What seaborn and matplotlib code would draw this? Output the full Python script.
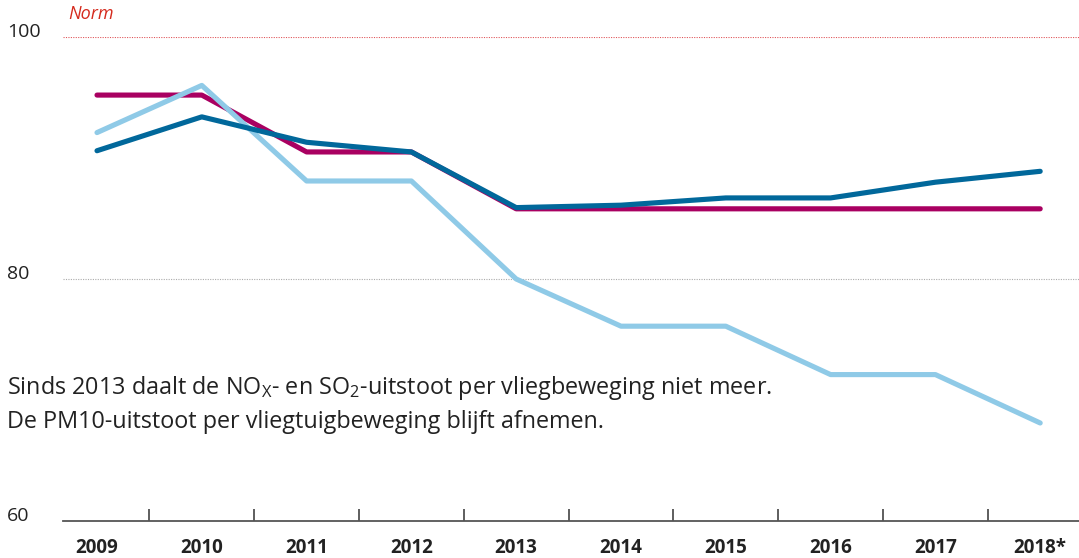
import matplotlib
matplotlib.use("Agg")
import matplotlib.pyplot as plt
import seaborn as sns
import pandas as pd

years = ["2009", "2010", "2011", "2012", "2013", "2014", "2015", "2016", "2017", "2018*"]
nox = [95.2, 95.2, 90.5, 90.5, 85.8, 85.8, 85.8, 85.8, 85.8, 85.8]
pm10 = [92.1, 96.0, 88.1, 88.1, 80.0, 76.1, 76.1, 72.1, 72.1, 68.1]
so2 = [90.6, 93.4, 91.3, 90.5, 85.9, 86.1, 86.7, 86.7, 88.0, 88.9]
y_ticks = [60, 80, 100]
norm_value = 100

series_names = ["NOx", "PM10", "SO2"]
series_colors = {"NOx": "#A90061", "PM10": "#8FCAE7", "SO2": "#01689B"}

rows = []
for name, vals in zip(series_names, [nox, pm10, so2]):
    for i, v in enumerate(vals):
        rows.append({"pos": i, "value": v, "series": name})
df = pd.DataFrame(rows)

sns.set_theme(style="white")
plt.rcParams["font.family"] = ["Open Sans", "DejaVu Sans"]
plt.rcParams["mathtext.fontset"] = "custom"
plt.rcParams["mathtext.rm"] = "Open Sans"
plt.rcParams["mathtext.it"] = "Open Sans:italic"

W, H = 1079, 558
fig = plt.figure(figsize=(W / 100, H / 100), dpi=100)
ax = fig.add_axes([63 / W, 37 / H, 1 - 63 / W, (521 - 37) / H])

# reference lines
ax.axhline(norm_value, color="#E0565A", lw=0.8, ls=(0, (1, 1.2)), zorder=1)
ax.axhline(80, color="#ababab", lw=0.8, ls=(0, (1, 1.2)), zorder=1)

sns.lineplot(data=df, x="pos", y="value", hue="series", hue_order=series_names,
             palette=series_colors, lw=3.7, legend=False, sort=False, ax=ax,
             zorder=3)
for line in ax.get_lines()[2:]:
    line.set_solid_capstyle("round")
    line.set_solid_joinstyle("round")
    line.set_clip_on(False)

ax.set_xlim(-34 / 104.8, (W - 97) / 104.8)
ax.set_ylim(60, 100)

# x axis: labels under each year, small tick marks between years
ax.set_xticks(range(len(years)))
ax.set_xticklabels(years, fontsize=13.5, fontweight="bold", color="#222222")
ax.set_xticks([i + 0.5 for i in range(len(years) - 1)], minor=True)
ax.tick_params(axis="x", which="major", length=0, pad=12.5)
ax.tick_params(axis="x", which="minor", length=8.5, width=1.1,
               direction="in", color="#333333", bottom=True)

ax.set_yticks(y_ticks)
ax.set_yticklabels([str(t) for t in y_ticks], fontsize=14, color="#222222")
ax.tick_params(axis="y", length=0, pad=56 * 72 / 100)
for lab in ax.get_yticklabels():
    lab.set_horizontalalignment("left")
    lab.set_verticalalignment("baseline")

ax.set_xlabel("")
ax.set_ylabel("")
for side in ["top", "right", "left"]:
    ax.spines[side].set_visible(False)
ax.spines["bottom"].set_color("#555555")
ax.spines["bottom"].set_linewidth(1.3)

fig.text(68 / W, 1 - 5 / H, "Norm", fontsize=13, style="italic",
         color="#D52B1E", ha="left", va="top")

fig.text(7 / W, 1 - 394.5 / H,
         "Sinds 2013 daalt de NO$_\\mathrm{X}$- en SO$_\\mathrm{2}$-uitstoot per vliegbeweging niet meer.",
         fontsize=16.8, color="#222222", ha="left", va="baseline")
fig.text(7 / W, 1 - 428 / H,
         "De PM10-uitstoot per vliegtuigbeweging blijft afnemen.",
         fontsize=16.8, color="#222222", ha="left", va="baseline")

fig.savefig("out.png", dpi=100, facecolor="white")
